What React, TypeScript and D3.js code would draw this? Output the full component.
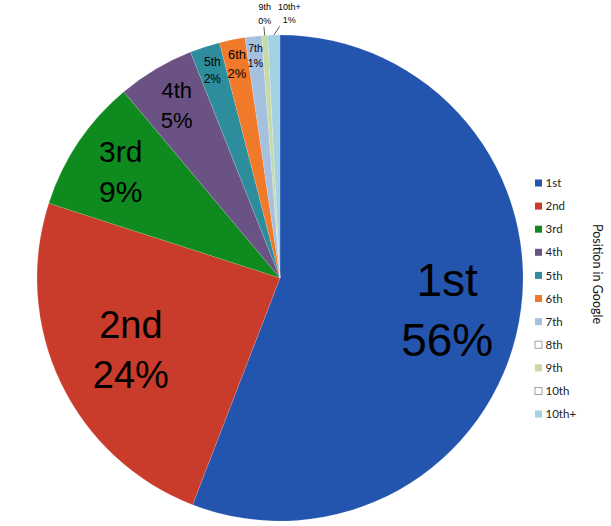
import React, { useEffect, useRef } from 'react'
import * as d3 from 'd3'

// data (percent of clicks by Google position)
const positions = ['1st', '2nd', '3rd', '4th', '5th', '6th', '7th', '8th', '9th', '10th', '10th+']
const shares = [55.8, 24.1, 8.9, 5.1, 2.0, 1.7, 1.1, 0, 0.4, 0, 0.8]
const legendTitle = 'Position in Google'

// styling per slice
const colors = ['#2355ae', '#c93b2a', '#0e8a1e', '#6b5284', '#2e8d9c', '#f07a2a', '#a6c1e0', '#ffffff', '#c6daa5', '#ffffff', '#a3d2e4']
const labelSizes = [46, 38, 30, 22, 12, 13, 10.5, 0, 9, 0, 9]
const labelRadius = [0.7, 0.68, 0.79, 0.83, 0.9, 0.9, 0.92, 0, 1.09, 0, 1.09]
const labelNudge = [0, 0, 0, 0, 0, 0, 0, 0, 1.5, 0, 16]

export default function App() {
    const ref = useRef<SVGSVGElement | null>(null)

    const width = 611
    const height = 526
    const cx = 280
    const cy = 278
    const radius = 243

    function draw() {
        var svg = d3.select(ref.current)
        svg.selectAll('*').remove()

        var pie = d3.pie<number>().sort(null).value(d => d)
        var arcs = pie(shares)
        var arc = d3.arc<d3.PieArcDatum<number>>().innerRadius(0).outerRadius(radius)

        var g = svg.append('g').attr('transform', 'translate(' + cx + ',' + cy + ')')

        g.selectAll('path')
            .data(arcs)
            .enter().append('path')
            .attr('d', arc)
            .attr('fill', (d, i) => colors[i])
            .attr('stroke', '#ffffff')
            .attr('stroke-opacity', 0.25)
            .attr('stroke-width', 0.5)

        var fmt = d3.format('.0f')

        arcs.forEach(function (d, i) {
            var fs = labelSizes[i]
            if (!fs || d.value === 0) return
            var mid = (d.startAngle + d.endAngle) / 2
            var rr = radius * labelRadius[i]
            var x = Math.sin(mid) * rr + labelNudge[i]
            var y = -Math.cos(mid) * rr
            var gap = fs * 1.25 + 2.5
            var cap = fs * 0.716
            var lab = g.append('text')
                .attr('text-anchor', 'middle')
                .attr('font-family', '"Liberation Sans", Arial, sans-serif')
                .attr('font-size', fs)
                .attr('fill', '#000')
            lab.append('tspan').attr('x', x).attr('y', y - gap / 2 + cap / 2).text(positions[i])
            lab.append('tspan').attr('x', x).attr('y', y + gap / 2 + cap / 2).text(fmt(d.value) + '%')

            if (labelRadius[i] > 1) {
                // leader line for the labels outside the pie
                g.append('line')
                    .attr('x1', Math.sin(mid) * radius)
                    .attr('y1', -Math.cos(mid) * radius)
                    .attr('x2', x - labelNudge[i] * 0.6)
                    .attr('y2', y + gap / 2 + cap / 2 + 3)
                    .attr('stroke', '#333')
                    .attr('stroke-width', 0.8)
            }
        })

        // legend
        var legend = svg.append('g').attr('transform', 'translate(535,183)')
        var ly = d3.scalePoint<string>().domain(positions).range([0, 231])
        var item = legend.selectAll('g.item')
            .data(positions)
            .enter().append('g')
            .attr('class', 'item')
            .attr('transform', d => 'translate(0,' + ly(d) + ')')
        item.append('rect')
            .attr('x', 0)
            .attr('y', -3.5)
            .attr('width', 7)
            .attr('height', 7)
            .attr('fill', (d, i) => colors[i])
            .attr('stroke', (d, i) => colors[i] === '#ffffff' ? '#888' : 'none')
            .attr('stroke-width', 0.8)
        item.append('text')
            .attr('x', 10.5)
            .attr('dy', '0.36em')
            .attr('font-family', 'Lato, "Open Sans", sans-serif')
            .attr('font-size', 11.5)
            .attr('fill', '#222')
            .text(d => d)

        svg.append('text')
            .attr('transform', 'translate(597,274) rotate(90)')
            .attr('text-anchor', 'middle')
            .attr('dy', '0.35em')
            .attr('font-family', 'Lato, "Open Sans", sans-serif')
            .attr('font-size', 12.5)
            .attr('fill', '#111')
            .text(legendTitle)
    }

    useEffect(() => {
        draw()
    }, [])

    return (
        <svg ref={ref} width={width} height={height}
            style={{ position: 'absolute', left: 0, top: 0, background: '#fff' }} />
    )
}
